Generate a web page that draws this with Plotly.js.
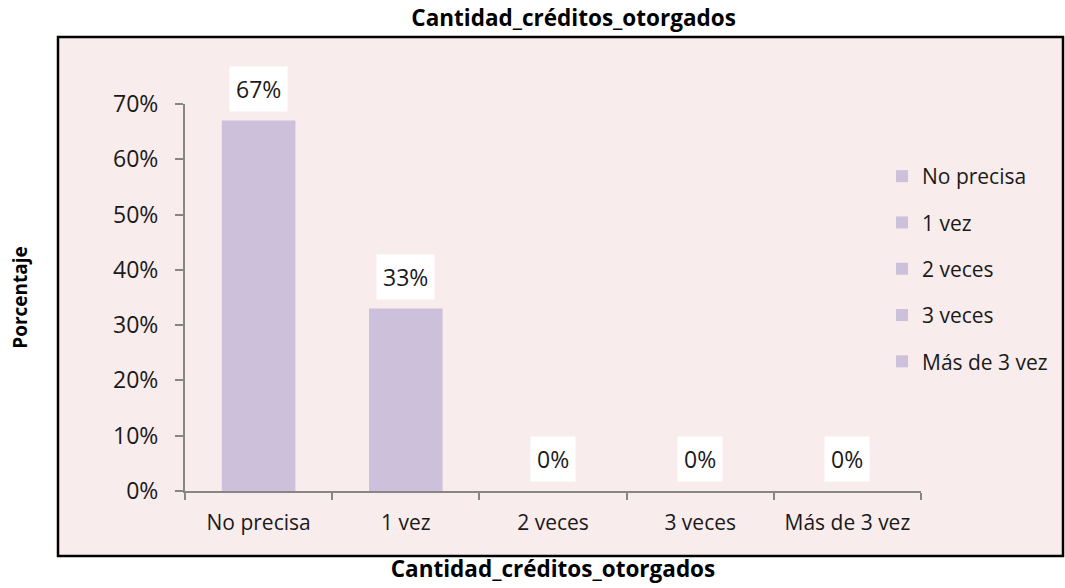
<!DOCTYPE html>
<html>
<head>
<meta charset="utf-8">
<script src="https://cdn.plot.ly/plotly-3.0.1.min.js"></script>
<style>
  html, body { margin: 0; padding: 0; background: #ffffff; }
  #chart { width: 1065px; height: 588px; }
</style>
</head>
<body>
<div id="chart"></div>
<script>
// ---- Data ----
var categories = ["No precisa", "1 vez", "2 veces", "3 veces", "Más de 3 vez"];
var values = [0.67, 0.33, 0.00, 0.00, 0.00];
var valueLabels = ["67%", "33%", "0%", "0%", "0%"];
var yTickVals = [0, 0.1, 0.2, 0.3, 0.4, 0.5, 0.6, 0.7];
var yTickText = ["0%", "10%", "20%", "30%", "40%", "50%", "60%", "70%"];
var chartTitle = "Cantidad_créditos_otorgados";
var xTitle = "Cantidad_créditos_otorgados";
var yTitle = "Porcentaje";

// ---- Styles ----
var barColor = "#ccc0da";
var bgColor = "#f9ecec";
var axisColor = "#868686";
var fontFamily = "'Open Sans', 'Noto Sans', sans-serif";

// One trace per category so every category gets its own legend entry
var traces = categories.map(function (c, i) {
  return {
    type: "bar",
    name: c,
    x: [c],
    y: [values[i]],
    width: 0.5,
    marker: { color: barColor },
    legendgroup: "g" + i,
    hoverinfo: "x+y"
  };
});

var annotations = categories.map(function (c, i) {
  return {
    x: c, y: values[i], xref: "x", yref: "y",
    text: valueLabels[i], showarrow: false,
    yanchor: "bottom", yshift: 9,
    bgcolor: "#ffffff", borderpad: 6,
    font: { family: fontFamily, size: 23, color: "#1a1a1a" }
  };
});

var layout = {
  width: 1065, height: 588,
  margin: { l: 185, r: 144, t: 104, b: 97, autoexpand: false },
  paper_bgcolor: "#ffffff",
  plot_bgcolor: "rgba(0,0,0,0)",
  barmode: "overlay",
  showlegend: true,
  font: { family: fontFamily, color: "#000000" },
  title: {
    text: "<b>" + chartTitle + "</b>",
    font: { family: fontFamily, size: 22.5, color: "#000000" },
    x: 0.528, xanchor: "center", xref: "paper",
    y: 1 - 18 / 588, yanchor: "middle", yref: "container"
  },
  xaxis: {
    type: "category",
    categoryorder: "array", categoryarray: categories,
    range: [-0.5, categories.length - 0.5],
    showline: true, linecolor: axisColor, linewidth: 2,
    ticks: "outside", tickson: "boundaries", ticklen: 7, tickcolor: axisColor, tickwidth: 2,
    ticklabelstandoff: 12,
    showgrid: false, zeroline: false,
    tickfont: { family: fontFamily, size: 21, color: "#1a1a1a" },
    title: {
      text: "<b>" + xTitle + "</b>",
      font: { family: fontFamily, size: 22.5, color: "#000000" },
      standoff: 26
    },
    automargin: false, fixedrange: true
  },
  yaxis: {
    range: [0, 0.7],
    tickvals: yTickVals, ticktext: yTickText,
    showline: true, linecolor: axisColor, linewidth: 2,
    ticks: "outside", ticklen: 8, tickcolor: axisColor, tickwidth: 2,
    ticklabelstandoff: 12,
    showgrid: false, zeroline: false,
    tickfont: { family: fontFamily, size: 23, color: "#1a1a1a" },
    title: {
      text: "<b>" + yTitle + "</b>",
      font: { family: fontFamily, size: 19, color: "#000000" },
      standoff: 80
    },
    automargin: false, fixedrange: true
  },
  legend: {
    x: (882 - 185) / 736, xanchor: "left",
    y: (491 - 156) / 387, yanchor: "top",
    bgcolor: "rgba(0,0,0,0)",
    font: { family: fontFamily, size: 21, color: "#1a1a1a" },
    tracegroupgap: 16,
    traceorder: "grouped"
  },
  shapes: [{
    type: "rect", xref: "paper", yref: "paper", layer: "below",
    x0: (58 - 185) / 736, x1: (1063 - 185) / 736,
    y0: (491 - 556) / 387, y1: (491 - 37) / 387,
    fillcolor: bgColor,
    line: { color: "#000000", width: 2.5 }
  }],
  annotations: annotations
};

Plotly.newPlot("chart", traces, layout, { displayModeBar: false, staticPlot: false });
</script>
</body>
</html>
